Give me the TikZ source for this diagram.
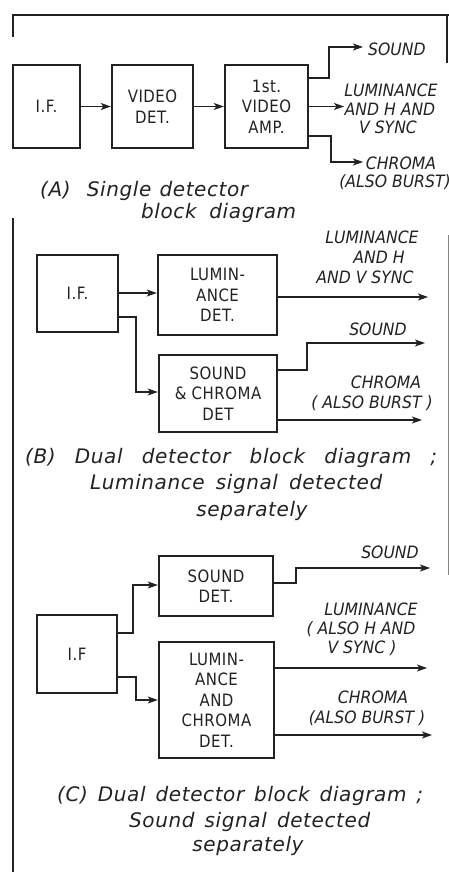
\documentclass[tikz,border=0pt]{standalone}
\usepackage{fontspec}
\setmainfont{DejaVu Sans}
\newfontfamily\boxfont[FakeStretch=0.88,LetterSpace=3]{DejaVu Sans}
\newfontfamily\lblfont[FakeStretch=0.92]{DejaVu Sans}
\newfontfamily\capfont[LetterSpace=3]{DejaVu Sans}
\usetikzlibrary{arrows.meta,calc}
\definecolor{ink}{HTML}{222220}
\begin{document}
\begin{tikzpicture}[x=1pt,y=-1pt,
  blk/.style={draw=ink, line width=2.4pt, inner sep=0pt, align=center, text=ink,
    font=\boxfont\fontsize{17}{20.5}\selectfont},
  conn/.style={draw=ink, line width=1.2pt, -{Stealth[length=10pt,width=7pt,inset=2.5pt]}},
  lbl/.style={text=ink, inner sep=0pt, anchor=base, font=\lblfont\itshape\fontsize{17}{19}\selectfont},
  captl/.style={text=ink, inner sep=0pt, anchor=base west, font=\capfont\itshape\fontsize{20}{24}\selectfont},
  captc/.style={text=ink, inner sep=0pt, anchor=base, font=\capfont\itshape\fontsize{20}{24}\selectfont},
  frameln/.style={draw=ink, line width=2.2pt}]
\useasboundingbox[fill=white] (0,0) rectangle (449,872);

% frame
\draw[frameln] (13,37) -- (13,15) -- (449,15);
\draw[ink, line width=1.2pt] (447,15) -- (447,63);
\draw[frameln] (13,218) -- (13,872);
\draw[ink!55, line width=0.8pt] (448,235) -- (448,575);

% ---------- (A) ----------
\node[blk, minimum width=67pt, minimum height=83pt] (ifa) at (46.5,106.5) {I.F.};
\node[blk, minimum width=81pt, minimum height=83pt] (vda) at (152.5,106.5) {VIDEO\\DET.};
\node[blk, minimum width=83pt, minimum height=83pt] (ampa) at (266.5,106.5) {1st.\\VIDEO\\AMP.};
\draw[conn] (ifa) -- (vda);
\draw[conn] (vda) -- (ampa);
\coordinate (sa1) at (329,78);
\coordinate (sa) at (363,47);
\draw[conn] (ampa.east |- sa1) -- (sa1) |- (sa);
\coordinate (la) at (344,106.5);
\draw[conn] (ampa.east) -- (la);
\coordinate (ca1) at (331,136);
\coordinate (ca) at (363,162);
\draw[conn] (ampa.east |- ca1) -- (ca1) |- (ca);
\node[lbl, anchor=base west] (sndAt) at (368,56) {SOUND};
\node[lbl] (lumA1) at (391,97) {LUMINANCE};
\node[lbl] (lumA2) at (390,116) {AND H AND};
\node[lbl] (lumA3) at (388,134) {V SYNC};
\node[lbl] (chrA1) at (401,169) {CHROMA};
\node[lbl] (chrA2) at (395,187) {(ALSO BURST)};
\node[captl] (capA1) at (40,196) {\makebox[208pt][s]{(A)\ \ Single detector}};
\node[captl] (capA2) at (141,218) {\makebox[155pt][s]{block diagram}};

% ---------- (B) ----------
\node[blk, minimum width=81pt, minimum height=77pt] (ifb) at (77.5,293.5) {I.F.};
\node[blk, minimum width=119pt, minimum height=80pt] (ldb) at (217.5,295) {LUMIN-\\ANCE\\DET.};
\node[blk, minimum width=118pt, minimum height=77pt] (scb) at (218,393.5) {SOUND\\\& CHROMA\\DET};
\coordinate (tb) at (0,293);
\draw[conn] (ifb.east |- tb) -- (ldb.west |- tb);
\coordinate (bb1) at (136,317);
\coordinate (bb2) at (136,392);
\draw[conn] (ifb.east |- bb1) -- (bb1) -- (bb2) -- (scb.west |- bb2);
\coordinate (lb) at (428,297);
\draw[conn] (ldb.east |- lb) -- (lb);
\coordinate (sb1) at (307,370);
\coordinate (sb) at (425,343);
\draw[conn] (scb.east |- sb1) -- (sb1) |- (sb);
\coordinate (cb) at (422,420);
\draw[conn] (scb.east |- cb) -- (cb);
\node[lbl] (lumB1) at (372,243) {LUMINANCE};
\node[lbl] (lumB2) at (379,263) {AND H};
\node[lbl] (lumB3) at (365,283) {AND V SYNC};
\node[lbl] (sndBt) at (378,335) {SOUND};
\node[lbl] (chrB1) at (386,388) {CHROMA};
\node[lbl] (chrB2) at (372,408) {( ALSO BURST )};
\node[captl] (capB1) at (25,463) {\makebox[412pt][s]{(B) Dual detector block diagram ;}};
\node[captl] (capB2) at (90,489) {\makebox[292pt][s]{Luminance signal detected}};
\node[captc] (capB3) at (252,516) {separately};

% ---------- (C) ----------
\node[blk, minimum width=114pt, minimum height=60pt] (sdc) at (216,586) {SOUND\\DET.};
\node[blk, minimum width=80pt, minimum height=78pt] (ifc) at (77,654) {I.F};
\node[blk, minimum width=115pt, minimum height=116pt] (lcc) at (216.5,700) {LUMIN-\\ANCE\\AND\\CHROMA\\DET.};
\coordinate (cu1) at (133,633);
\coordinate (cu2) at (133,585);
\draw[conn] (ifc.east |- cu1) -- (cu1) -- (cu2) -- (sdc.west |- cu2);
\coordinate (cl1) at (136,677);
\coordinate (cl2) at (136,700);
\draw[conn] (ifc.east |- cl1) -- (cl1) -- (cl2) -- (lcc.west |- cl2);
\coordinate (sc1) at (296,583);
\coordinate (sc) at (430,568);
\draw[conn] (sdc.east |- sc1) -- (sc1) |- (sc);
\coordinate (lc) at (427,668);
\draw[conn] (lcc.east |- lc) -- (lc);
\coordinate (cc) at (432,735);
\draw[conn] (lcc.east |- cc) -- (cc);
\node[lbl] (sndCt) at (390,558) {SOUND};
\node[lbl] (lumC1) at (371,615) {LUMINANCE};
\node[lbl] (lumC2) at (361,634) {( ALSO H AND};
\node[lbl] (lumC3) at (362,653) {V SYNC )};
\node[lbl] (chrC1) at (373,703) {CHROMA};
\node[lbl] (chrC2) at (367,723) {(ALSO BURST )};
\node[captl] (capC1) at (57,801) {\makebox[366pt][s]{(C) Dual detector block diagram ;}};
\node[captl] (capC2) at (129,827) {\makebox[241pt][s]{Sound signal detected}};
\node[captc] (capC3) at (248,851) {separately};
\end{tikzpicture}
\end{document}
